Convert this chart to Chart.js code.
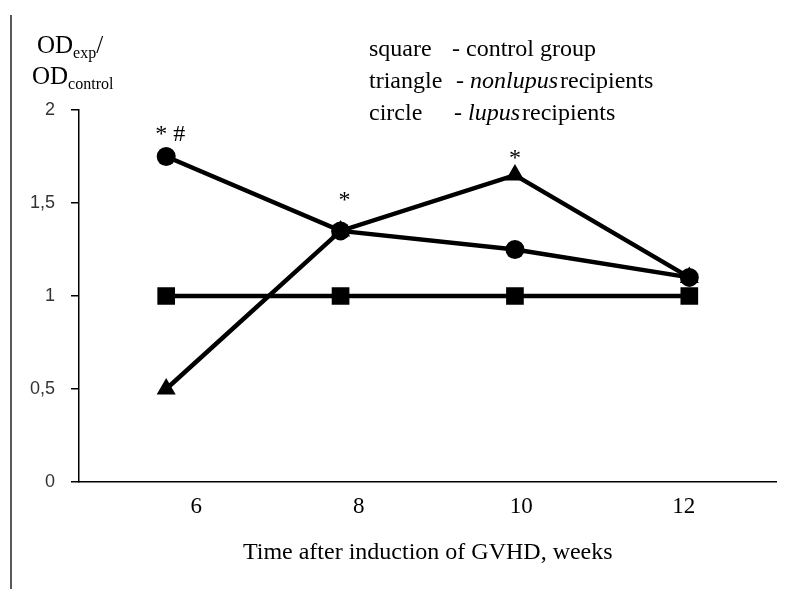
<!DOCTYPE html>
<html>
<head>
<meta charset="utf-8">
<script src="https://cdn.jsdelivr.net/npm/chart.js@4/dist/chart.umd.min.js"></script>
<style>
  html, body { margin: 0; padding: 0; background: #fff; }
  canvas { display: block; }
</style>
</head>
<body>
<canvas id="myChart" width="789" height="589"></canvas>
<script>
// values
let weeks = [6, 8, 10, 12];
let controlGroup = [1, 1, 1, 1];
let nonlupus = [0.5, 1.35, 1.65, 1.1];
let lupus = [1.75, 1.35, 1.25, 1.1];
let yTicks = [0, 0.5, 1, 1.5, 2];
let marks = ["* #", "*", "*", ""];

let serif = "'Liberation Serif', 'Times New Roman', serif";
let canvas = document.querySelector("#myChart");

function toPoints(values) {
    return values.map((v, i) => ({ x: weeks[i], y: v }));
}

// free text: page edge, y title with subscripts, legend lines, significance marks
const textPlugin = {
    id: "textPlugin",
    afterDraw(chart) {
        const ctx = chart.ctx;
        const xs = chart.scales.x;
        const ys = chart.scales.y;
        ctx.save();

        ctx.strokeStyle = "#222";
        ctx.lineWidth = 1.5;
        ctx.beginPath();
        ctx.moveTo(11, 15);
        ctx.lineTo(11, 589);
        ctx.stroke();

        ctx.fillStyle = "#000";
        ctx.textBaseline = "alphabetic";
        ctx.textAlign = "left";

        // OD_exp / OD_control
        function sub(x, y, big, small, tail) {
            ctx.font = "25px " + serif;
            ctx.fillText(big, x, y);
            let w = ctx.measureText(big).width;
            ctx.font = "16px " + serif;
            ctx.fillText(small, x + w, y + 5);
            let w2 = ctx.measureText(small).width;
            if (tail) {
                ctx.font = "25px " + serif;
                ctx.fillText(tail, x + w + w2, y);
            }
        }
        sub(37, 53, "OD", "exp", "/");
        sub(32, 84, "OD", "control", "");

        // legend text
        function row(y, name, dashX, parts) {
            ctx.font = "24px " + serif;
            ctx.fillText(name, 369, y);
            let x = dashX;
            for (const p of parts) {
                ctx.font = (p.it ? "italic " : "") + "24px " + serif;
                ctx.fillText(p.t, x, y);
                x += ctx.measureText(p.t).width + (p.gap || 0);
            }
        }
        row(56, "square", 452, [{ t: "- control group" }]);
        row(88, "triangle", 456, [{ t: "- " }, { t: "nonlupus", it: true, gap: 2 }, { t: "recipients" }]);
        row(120, "circle", 454, [{ t: "- " }, { t: "lupus", it: true, gap: 2 }, { t: "recipients" }]);

        // significance marks above the highest point of each week
        const lift = [16, 24, 10, 0];
        const dx = [4, 4, 0, 0];
        ctx.font = "24px " + serif;
        ctx.textAlign = "center";
        weeks.forEach((w, i) => {
            if (!marks[i]) return;
            let v = Math.max(lupus[i], nonlupus[i]);
            let px = xs.getPixelForValue(w);
            let py = ys.getPixelForValue(v);
            ctx.fillText(marks[i], px + dx[i], py - lift[i]);
        });

        ctx.restore();
    }
};

const lineStyle = {
    borderColor: "#000",
    backgroundColor: "#000",
    pointBackgroundColor: "#000",
    pointBorderColor: "#000",
    pointBorderWidth: 0,
    borderWidth: 4.5,
    tension: 0
};

// dataset 0 is painted last (on top): square, then circle, then triangle
const conf = {
    type: "line",
    data: {
        datasets: [
            Object.assign({ label: "square - control group", data: toPoints(controlGroup), pointStyle: "rect", pointRadius: 12.5 }, lineStyle),
            Object.assign({ label: "circle - lupus recipients", data: toPoints(lupus), pointStyle: "circle", pointRadius: 9.5 }, lineStyle),
            Object.assign({ label: "triangle - nonlupus recipients", data: toPoints(nonlupus), pointStyle: "triangle", pointRadius: 11 }, lineStyle)
        ]
    },
    options: {
        responsive: false,
        animation: false,
        layout: { padding: { left: 0, right: 9, top: 110, bottom: 0 } },
        plugins: {
            legend: { display: false },
            tooltip: { enabled: false }
        },
        scales: {
            x: {
                type: "linear",
                position: "bottom",
                weight: 0,
                min: 5,
                max: 13,
                grid: { display: false, drawTicks: false },
                border: { color: "#000", width: 1.5 },
                ticks: { display: false },
                afterFit(s) { s.height = 0; }
            },
            xl: {
                type: "linear",
                position: "bottom",
                weight: 1,
                min: 4.556,
                max: 13.14,
                grid: { display: false, drawTicks: false },
                border: { display: false },
                afterBuildTicks(s) { s.ticks = weeks.map(v => ({ value: v })); },
                ticks: {
                    color: "#000",
                    padding: 11,
                    maxRotation: 0,
                    font: { family: serif, size: 23 },
                    callback: v => String(v)
                },
                title: {
                    display: true,
                    text: "Time after induction of GVHD, weeks",
                    color: "#000",
                    font: { family: serif, size: 24 },
                    padding: { top: 0, bottom: 22 }
                },
                afterFit(s) { s.height = 107; }
            },
            y: {
                min: 0,
                max: 2,
                afterBuildTicks(s) { s.ticks = yTicks.map(v => ({ value: v })); },
                grid: { drawOnChartArea: false, drawTicks: true, tickLength: 8, color: "#000", lineWidth: 1.5 },
                border: { color: "#000", width: 1.5 },
                ticks: {
                    color: "#333",
                    padding: 16,
                    font: { family: "'Liberation Sans', Arial, sans-serif", size: 18 },
                    callback: v => String(v).replace(".", ",")
                },
                afterFit(s) { s.width = 79; }
            }
        }
    },
    plugins: [textPlugin]
};

let grafico = new Chart(canvas, conf);
</script>
</body>
</html>
